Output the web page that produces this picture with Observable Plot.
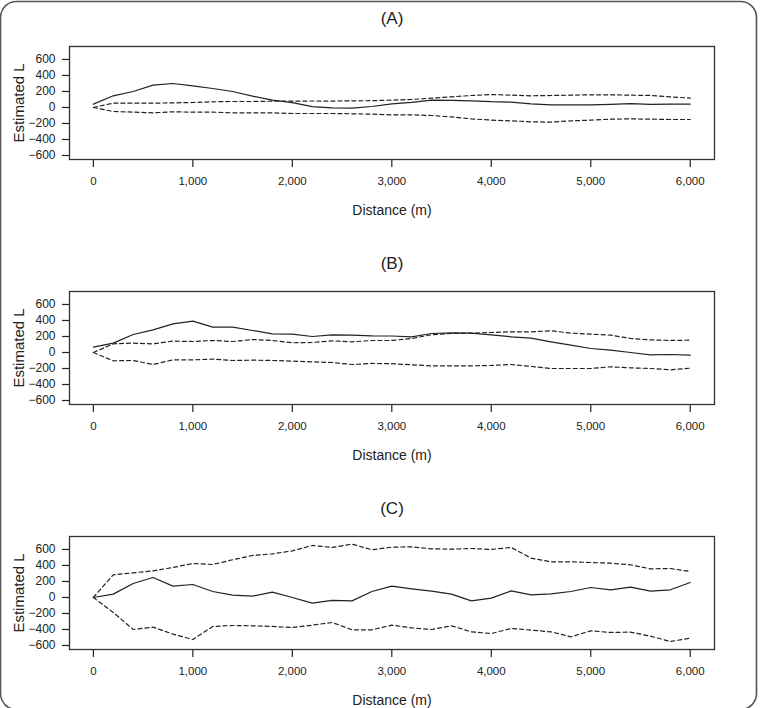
<!DOCTYPE html>
<html>
<head>
<meta charset="utf-8">
<script src="https://cdn.jsdelivr.net/npm/d3@7"></script>
<script src="https://cdn.jsdelivr.net/npm/@observablehq/plot@0.6"></script>
<style>
  html, body { margin: 0; padding: 0; background: #fff; overflow: hidden; }
  #wrap { position: relative; width: 761px; height: 708px; }
  #border { position: absolute; left: 0; top: 0; }
  .panel { position: absolute; left: 0; }
</style>
</head>
<body>
<div id="wrap">
  <svg id="border" width="761" height="708">
    <rect x="0.5" y="1.5" width="756" height="708" rx="16" ry="16" fill="none" stroke="#555" stroke-width="1.6"></rect>
  </svg>
</div>
<script>
// Distance bands (m) at which Ripley's L was estimated
const distance = [0, 200, 400, 600, 800, 1000, 1200, 1400, 1600, 1800, 2000,
  2200, 2400, 2600, 2800, 3000, 3200, 3400, 3600, 3800, 4000,
  4200, 4400, 4600, 4800, 5000, 5200, 5400, 5600, 5800, 6000];

const panelLabels = ["(A)", "(B)", "(C)"];
const xTicks = [0, 1000, 2000, 3000, 4000, 5000, 6000];
const yTicks = [-600, -400, -200, 0, 200, 400, 600];

// (A)
const aObserved = [42, 146, 200, 279, 300, 271, 237, 200, 142, 92, 60, 10, -4, -8, 12, 46,
  65, 92, 90, 83, 72, 67, 45, 33, 32, 33, 40, 48, 40, 42, 42];
const aUpper = [0, 54, 54, 54, 58, 62, 71, 75, 75, 79, 79, 81, 80, 83, 85, 92,
  100, 117, 133, 150, 162, 154, 146, 150, 154, 158, 158, 154, 150, 133, 117];
const aLower = [0, -50, -58, -67, -54, -58, -58, -67, -67, -67, -75, -75, -75, -79, -83, -92,
  -92, -100, -117, -142, -158, -167, -179, -183, -167, -158, -146, -142, -146, -150, -150];

// (B)
const bObserved = [67, 117, 225, 283, 358, 392, 317, 317, 275, 233, 229, 200, 221, 217, 208, 206,
  196, 237, 246, 242, 221, 196, 179, 133, 92, 50, 29, 0, -29, -25, -33];
const bUpper = [0, 108, 117, 108, 142, 137, 150, 137, 162, 150, 121, 125, 146, 133, 150, 150,
  175, 221, 237, 242, 250, 258, 258, 271, 242, 229, 217, 175, 158, 150, 154];
const bLower = [0, -104, -100, -150, -92, -92, -83, -100, -96, -100, -108, -117, -125, -150, -137, -140,
  -154, -167, -167, -167, -162, -150, -175, -200, -200, -200, -179, -192, -200, -217, -196];

// (C)
const cObserved = [0, 42, 175, 250, 142, 162, 75, 29, 17, 67, 0, -71, -37, -42, 75, 142,
  108, 79, 42, -42, -8, 83, 33, 46, 75, 125, 96, 129, 79, 96, 187];
const cUpper = [0, 283, 308, 333, 375, 425, 412, 471, 525, 546, 583, 650, 625, 667, 596, 629,
  633, 608, 604, 612, 600, 625, 492, 446, 446, 437, 429, 408, 358, 362, 325];
const cLower = [0, -187, -400, -371, -458, -525, -362, -350, -354, -362, -375, -346, -312, -404, -404, -346,
  -379, -400, -354, -429, -450, -387, -408, -429, -492, -417, -437, -433, -483, -550, -508];

const panels = [
  {observed: aObserved, upper: aUpper, lower: aLower},
  {observed: bObserved, upper: bUpper, lower: bLower},
  {observed: cObserved, upper: cUpper, lower: cLower}
];

const ink = "#222";
const wrap = document.getElementById("wrap");

panels.forEach((p, i) => {
  const rows = distance.map((d, j) => ({d, obs: p.observed[j], hi: p.upper[j], lo: p.lower[j]}));
  const chart = Plot.plot({
    width: 761,
    height: 245,
    marginTop: 46,
    marginBottom: 86,
    marginLeft: 69,
    marginRight: 47,
    style: {fontFamily: "'Liberation Sans', Arial, sans-serif", fontSize: "12px", color: ink, background: "transparent"},
    x: {domain: [-240, 6244]},
    y: {domain: [-650, 762]},
    marks: [
      Plot.axisX(xTicks, {tickSize: 8, tickPadding: 9, tickFormat: d3.format(","), fontSize: 11.5, label: null, strokeWidth: 1.2}),
      Plot.axisY(yTicks, {tickSize: 7, tickPadding: 7, fontSize: 12, label: null, strokeWidth: 1.2}),
      Plot.frame({stroke: "#333", strokeWidth: 1.3}),
      Plot.line(rows, {x: "d", y: "hi", stroke: ink, strokeWidth: 1.2, strokeDasharray: "4,3"}),
      Plot.line(rows, {x: "d", y: "lo", stroke: ink, strokeWidth: 1.2, strokeDasharray: "4,3"}),
      Plot.line(rows, {x: "d", y: "obs", stroke: ink, strokeWidth: 1.2}),
      Plot.text([panelLabels[i]], {frameAnchor: "top", dy: -28, lineAnchor: "middle", textAnchor: "middle", fontSize: 17, fill: ink}),
      Plot.text(["Distance (m)"], {frameAnchor: "bottom", dy: 51, lineAnchor: "middle", textAnchor: "middle", fontSize: 14, fill: ink}),
      Plot.text(["Estimated L"], {frameAnchor: "left", dx: -50, rotate: -90, lineAnchor: "middle", textAnchor: "middle", fontSize: 15, fill: ink})
    ]
  });
  chart.classList.add("panel");
  chart.style.top = (i * 245) + "px";
  wrap.appendChild(chart);
});
</script>
</body>
</html>
